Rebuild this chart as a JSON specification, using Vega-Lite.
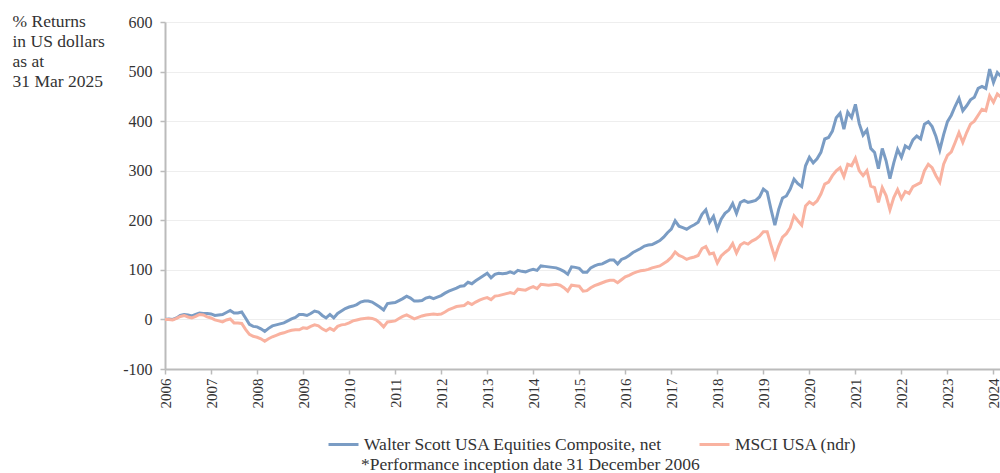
{
 "$schema": "https://vega.github.io/schema/vega-lite/v6.json",
 "width": 840,
 "height": 347,
 "autosize": {"type": "none"},
 "padding": {"left": 165, "top": 22, "right": 0, "bottom": 104},
 "background": "white",
 "config": {
  "font": "Liberation Serif",
  "view": {"stroke": null},
  "axis": {"labelFont": "Liberation Serif", "titleFont": "Liberation Serif", "labelColor": "#333", "titleColor": "#333", "labelFontSize": 15, "tickColor": "#bbbbbb", "domainColor": "#bbbbbb"},
  "legend": {"labelFont": "Liberation Serif"},
  "title": {"font": "Liberation Serif"}
 },
 "title": {"text": "*Performance inception date 31 December 2006", "orient": "bottom", "anchor": "start", "frame": "group", "dx": 196, "offset": 0, "dy": 3, "fontSize": 17.5, "fontWeight": "normal", "color": "#333", "font": "Liberation Serif"},
 "data": {"values": [
{"m":0,"W":0,"M":0},{"m":1,"W":1,"M":0},{"m":2,"W":0,"M":-1},{"m":3,"W":3,"M":2},{"m":4,"W":8,"M":6},{"m":5,"W":10,"M":8},{"m":6,"W":9,"M":5},{"m":7,"W":7,"M":3},{"m":8,"W":10,"M":6},{"m":9,"W":13,"M":10},
{"m":10,"W":12,"M":9},{"m":11,"W":12,"M":5},{"m":12,"W":11,"M":3},{"m":13,"W":8,"M":-1},{"m":14,"W":9,"M":-3},{"m":15,"W":10,"M":-5},{"m":16,"W":14,"M":-1},{"m":17,"W":18,"M":1},{"m":18,"W":13,"M":-7},{"m":19,"W":13,"M":-7},
{"m":20,"W":15,"M":-8},{"m":21,"W":3,"M":-20},{"m":22,"W":-10,"M":-30},{"m":23,"W":-14,"M":-34},{"m":24,"W":-15,"M":-36},{"m":25,"W":-19,"M":-39},{"m":26,"W":-24,"M":-44},{"m":27,"W":-18,"M":-39},{"m":28,"W":-13,"M":-35},{"m":29,"W":-11,"M":-32},
{"m":30,"W":-9,"M":-29},{"m":31,"W":-7,"M":-27},{"m":32,"W":-3,"M":-24},{"m":33,"W":1,"M":-22},{"m":34,"W":4,"M":-21},{"m":35,"W":10,"M":-21},{"m":36,"W":10,"M":-17},{"m":37,"W":8,"M":-18},{"m":38,"W":12,"M":-14},{"m":39,"W":17,"M":-11},
{"m":40,"W":15,"M":-13},{"m":41,"W":8,"M":-19},{"m":42,"W":3,"M":-23},{"m":43,"W":10,"M":-18},{"m":44,"W":3,"M":-22},{"m":45,"W":12,"M":-14},{"m":46,"W":17,"M":-11},{"m":47,"W":22,"M":-10},{"m":48,"W":25,"M":-7},{"m":49,"W":27,"M":-3},
{"m":50,"W":30,"M":-1},{"m":51,"W":35,"M":1},{"m":52,"W":37,"M":2},{"m":53,"W":37,"M":3},{"m":54,"W":35,"M":2},{"m":55,"W":30,"M":-1},{"m":56,"W":25,"M":-7},{"m":57,"W":19,"M":-15},{"m":58,"W":32,"M":-5},{"m":59,"W":33,"M":-4},
{"m":60,"W":34,"M":-3},{"m":61,"W":38,"M":2},{"m":62,"W":42,"M":6},{"m":63,"W":47,"M":9},{"m":64,"W":43,"M":5},{"m":65,"W":37,"M":1},{"m":66,"W":37,"M":4},{"m":67,"W":38,"M":7},{"m":68,"W":43,"M":9},{"m":69,"W":45,"M":10},
{"m":70,"W":42,"M":11},{"m":71,"W":45,"M":10},{"m":72,"W":48,"M":11},{"m":73,"W":53,"M":15},{"m":74,"W":57,"M":20},{"m":75,"W":60,"M":23},{"m":76,"W":63,"M":26},{"m":77,"W":67,"M":27},{"m":78,"W":68,"M":28},{"m":79,"W":75,"M":34},
{"m":80,"W":72,"M":30},{"m":81,"W":78,"M":35},{"m":82,"W":83,"M":39},{"m":83,"W":88,"M":42},{"m":84,"W":93,"M":44},{"m":85,"W":84,"M":40},{"m":86,"W":91,"M":47},{"m":87,"W":93,"M":48},{"m":88,"W":92,"M":50},{"m":89,"W":93,"M":52},
{"m":90,"W":96,"M":54},{"m":91,"W":93,"M":52},{"m":92,"W":99,"M":61},{"m":93,"W":97,"M":60},{"m":94,"W":96,"M":59},{"m":95,"W":99,"M":63},{"m":96,"W":101,"M":66},{"m":97,"W":99,"M":62},{"m":98,"W":108,"M":71},{"m":99,"W":107,"M":70},
{"m":100,"W":106,"M":69},{"m":101,"W":105,"M":70},{"m":102,"W":104,"M":71},{"m":103,"W":101,"M":69},{"m":104,"W":97,"M":64},{"m":105,"W":91,"M":57},{"m":106,"W":106,"M":69},{"m":107,"W":105,"M":68},{"m":108,"W":103,"M":67},{"m":109,"W":95,"M":57},
{"m":110,"W":95,"M":58},{"m":111,"W":104,"M":64},{"m":112,"W":108,"M":68},{"m":113,"W":111,"M":71},{"m":114,"W":112,"M":74},{"m":115,"W":116,"M":77},{"m":116,"W":120,"M":79},{"m":117,"W":120,"M":79},{"m":118,"W":112,"M":74},{"m":119,"W":121,"M":80},
{"m":120,"W":124,"M":86},{"m":121,"W":129,"M":89},{"m":122,"W":135,"M":93},{"m":123,"W":139,"M":96},{"m":124,"W":143,"M":98},{"m":125,"W":148,"M":99},{"m":126,"W":150,"M":101},{"m":127,"W":151,"M":104},{"m":128,"W":155,"M":106},{"m":129,"W":159,"M":108},
{"m":130,"W":166,"M":113},{"m":131,"W":175,"M":118},{"m":132,"W":182,"M":125},{"m":133,"W":199,"M":136},{"m":134,"W":188,"M":129},{"m":135,"W":185,"M":126},{"m":136,"W":182,"M":121},{"m":137,"W":187,"M":124},{"m":138,"W":191,"M":126},{"m":139,"W":196,"M":129},
{"m":140,"W":212,"M":143},{"m":141,"W":221,"M":147},{"m":142,"W":196,"M":132},{"m":143,"W":208,"M":134},{"m":144,"W":182,"M":114},{"m":145,"W":202,"M":128},{"m":146,"W":214,"M":135},{"m":147,"W":220,"M":141},{"m":148,"W":234,"M":153},{"m":149,"W":214,"M":134},
{"m":150,"W":236,"M":150},{"m":151,"W":240,"M":155},{"m":152,"W":236,"M":152},{"m":153,"W":238,"M":158},{"m":154,"W":240,"M":162},{"m":155,"W":247,"M":168},{"m":156,"W":263,"M":177},{"m":157,"W":257,"M":177},{"m":158,"W":222,"M":150},{"m":159,"W":190,"M":125},
{"m":160,"W":222,"M":148},{"m":161,"W":245,"M":166},{"m":162,"W":249,"M":173},{"m":163,"W":263,"M":185},{"m":164,"W":283,"M":209},{"m":165,"W":274,"M":199},{"m":166,"W":268,"M":190},{"m":167,"W":310,"M":229},{"m":168,"W":327,"M":237},{"m":169,"W":316,"M":232},
{"m":170,"W":324,"M":239},{"m":171,"W":337,"M":253},{"m":172,"W":364,"M":273},{"m":173,"W":367,"M":277},{"m":174,"W":380,"M":290},{"m":175,"W":407,"M":300},{"m":176,"W":416,"M":306},{"m":177,"W":384,"M":288},{"m":178,"W":418,"M":313},{"m":179,"W":407,"M":310},
{"m":180,"W":434,"M":325},{"m":181,"W":395,"M":300},{"m":182,"W":372,"M":290},{"m":183,"W":382,"M":300},{"m":184,"W":345,"M":269},{"m":185,"W":337,"M":266},{"m":186,"W":304,"M":236},{"m":187,"W":345,"M":266},{"m":188,"W":320,"M":250},{"m":189,"W":284,"M":221},
{"m":190,"W":316,"M":246},{"m":191,"W":343,"M":262},{"m":192,"W":327,"M":244},{"m":193,"W":350,"M":258},{"m":194,"W":345,"M":254},{"m":195,"W":362,"M":268},{"m":196,"W":370,"M":272},{"m":197,"W":364,"M":276},{"m":198,"W":394,"M":300},{"m":199,"W":399,"M":313},
{"m":200,"W":389,"M":306},{"m":201,"W":369,"M":290},{"m":202,"W":342,"M":277},{"m":203,"W":373,"M":313},{"m":204,"W":399,"M":331},{"m":205,"W":412,"M":338},{"m":206,"W":430,"M":357},{"m":207,"W":446,"M":377},{"m":208,"W":421,"M":357},{"m":209,"W":431,"M":377},
{"m":210,"W":443,"M":394},{"m":211,"W":448,"M":400},{"m":212,"W":466,"M":412},{"m":213,"W":470,"M":424},{"m":214,"W":466,"M":421},{"m":215,"W":505,"M":451},{"m":216,"W":478,"M":438},{"m":217,"W":498,"M":455},{"m":218,"W":490,"M":448},{"m":219,"W":500,"M":456}
 ]},
 "transform": [{"fold": ["W", "M"], "as": ["series", "value"]}],
 "mark": {"type": "line", "strokeWidth": 3, "clip": true},
 "encoding": {
  "x": {
   "field": "m", "type": "quantitative",
   "scale": {"domain": [0, 219], "nice": false, "zero": false},
   "axis": {
    "title": null, "grid": false,
    "values": [0, 12, 24, 36, 48, 60, 72, 84, 96, 108, 120, 132, 144, 156, 168, 180, 192, 204, 216],
    "labelExpr": "'' + (2006 + datum.value / 12)",
    "labelAngle": -90, "labelAlign": "right", "labelBaseline": "middle",
    "labelPadding": 4, "tickSize": 5, "domainWidth": 2, "tickWidth": 1.5,
    "labelFontSize": 15, "labelOverlap": false
   }
  },
  "y": {
   "field": "value", "type": "quantitative",
   "scale": {"domain": [-100, 600], "nice": false},
   "axis": {
    "values": [-100, 0, 100, 200, 300, 400, 500, 600],
    "labelExpr": "'' + datum.value",
    "grid": true, "gridColor": "#eeeeee", "gridWidth": 1,
    "tickSize": 5, "labelPadding": 8, "domainWidth": 2, "tickWidth": 1.5,
    "labelFontSize": 16,
    "title": ["% Returns", "in US dollars", "as at", "31 Mar 2025"],
    "titleAngle": 0, "titleAlign": "left", "titleBaseline": "top",
    "titleX": -153, "titleY": -10, "titleFontSize": 17.5, "titleFontWeight": "normal",
    "titleLineHeight": 20
   }
  },
  "color": {
   "field": "series", "type": "nominal",
   "scale": {"domain": ["W", "M"], "range": ["#7a9cc4", "#f9b2a0"]},
   "legend": {
    "orient": "none", "legendX": 162, "legendY": 406,
    "direction": "horizontal", "title": null,
    "symbolType": "stroke", "symbolSize": 900, "symbolStrokeWidth": 3,
    "labelFontSize": 17.5, "labelColor": "#333", "labelLimit": 0,
    "columnPadding": 30, "labelOffset": 4,
    "labelExpr": "datum.label == 'W' ? 'Walter Scott USA Equities Composite, net' : 'MSCI USA (ndr)'"
   }
  }
 }
}
